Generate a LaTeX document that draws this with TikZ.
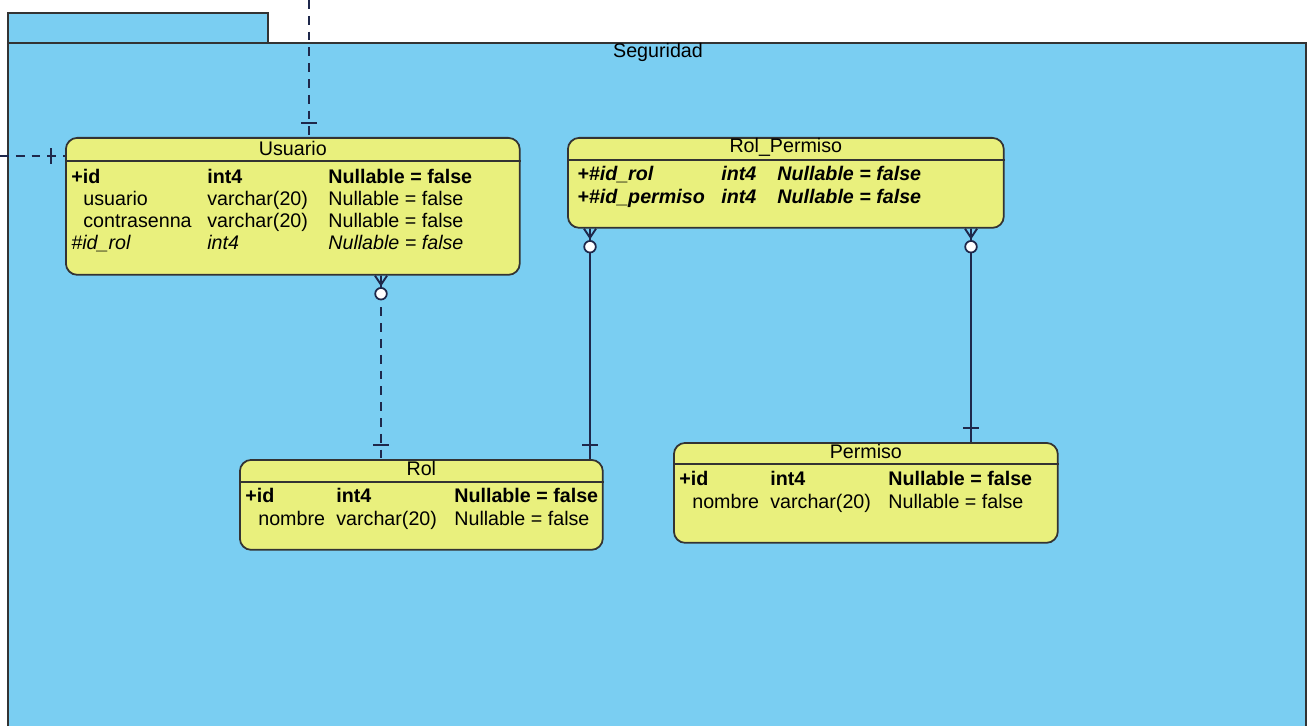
\documentclass[tikz,border=0pt]{standalone}
\usepackage{fontspec}
\setmainfont{Liberation Sans}
\usetikzlibrary{positioning}
\definecolor{celeste}{RGB}{122,206,242}
\definecolor{amarillo}{RGB}{233,240,125}
\definecolor{azuloscuro}{RGB}{30,40,75}
\newcommand{\tam}{\fontsize{11.2}{13}\selectfont}

\tikzset{
  borde/.style={draw=black!80, line width=1pt},
  tabla/.style={borde, fill=amarillo, rounded corners=6.5pt, anchor=north west, inner sep=0pt},
  titulo/.style={anchor=base, inner sep=0pt, font=\tam},
  campo/.style={anchor=base west, inner sep=0pt},
  conector/.style={draw=azuloscuro, line width=0.7pt},
  discontinuo/.style={dash pattern=on 5pt off 4pt},
  muchos/.pic={
    \draw[conector, line width=1.1pt] (-6,0) -- (0,9) (0,0) -- (0,9) (6,0) -- (0,9) (0,9) -- (0,12);
    \draw[conector, line width=1pt, fill=white] (0,18) circle (3.3pt);
  },
  uno/.pic={
    \draw[conector] (-8,-14) -- (8,-14);
  }
}

\begin{document}
\begin{tikzpicture}[x=0.02cm, y=-0.02cm]
    \useasboundingbox (0,0) rectangle (1310,726);

    % Paquete Seguridad
    \fill[celeste] (8,43) rectangle (1306,726);
    \draw[borde] (8,726) -- (8,43) -- (1306,43) -- (1306,726);
    \draw[borde, fill=celeste] (8,43) rectangle (268,13);
    \node[titulo] (seguridad) at (658,58) {Seguridad};

    % Tablas
    \node[tabla, minimum width=9.08cm, minimum height=2.74cm] (usuario) at (65,137) {};
    \node[tabla, minimum width=8.72cm, minimum height=1.8cm] (rolpermiso) at (567,137) {};
    \node[tabla, minimum width=7.26cm, minimum height=1.8cm] (rol) at (239,459) {};
    \node[tabla, minimum width=7.68cm, minimum height=2.0cm] (permiso) at (673,442) {};

    \node[titulo] (usuario-t) at ([shift={(0,18)}]usuario.north) {Usuario};
    \node[titulo] (rolpermiso-t) at ([shift={(0,16)}]rolpermiso.north) {Rol\_Permiso};
    \node[titulo] (rol-t) at ([shift={(0,16)}]rol.north) {Rol};
    \node[titulo] (permiso-t) at ([shift={(0,16)}]permiso.north) {Permiso};

    \draw[borde] ([shift={(0,24)}]usuario.north west) -- ([shift={(0,24)}]usuario.north east);
    \draw[borde] ([shift={(0,23)}]rolpermiso.north west) -- ([shift={(0,23)}]rolpermiso.north east);
    \draw[borde] ([shift={(0,23)}]rol.north west) -- ([shift={(0,23)}]rol.north east);
    \draw[borde] ([shift={(0,22)}]permiso.north west) -- ([shift={(0,22)}]permiso.north east);

    % Campos
    \foreach \fnt/\dx/\a/\b/\c [count=\i] in {
        \bfseries/6/+id/int4/Nullable = false,
        \upshape/18/usuario/varchar(20)/Nullable = false,
        \upshape/18/contrasenna/varchar(20)/Nullable = false,
        \itshape/6/\#id\_rol/int4/Nullable = false}
    {
        \node[campo, font=\tam\fnt] (usuario-\i-a) at ([shift={(\dx,{24+22*\i})}]usuario.north west) {\a};
        \node[campo, font=\tam\fnt] (usuario-\i-b) at ([shift={(142,{24+22*\i})}]usuario.north west) {\b};
        \node[campo, font=\tam\fnt] (usuario-\i-c) at ([shift={(263,{24+22*\i})}]usuario.north west) {\c};
    }
    \foreach \a [count=\i] in {+\#id\_rol, +\#id\_permiso}
    {
        \node[campo, font=\tam\bfseries\itshape] (rolpermiso-\i-a) at ([shift={(10,{21+22.5*\i})}]rolpermiso.north west) {\a};
        \node[campo, font=\tam\bfseries\itshape] (rolpermiso-\i-b) at ([shift={(154,{21+22.5*\i})}]rolpermiso.north west) {int4};
        \node[campo, font=\tam\bfseries\itshape] (rolpermiso-\i-c) at ([shift={(210,{21+22.5*\i})}]rolpermiso.north west) {Nullable = false};
    }
    \foreach \tab in {rol, permiso}
    {
        \foreach \fnt/\dx/\a/\b [count=\i] in {\bfseries/6/+id/int4, \upshape/19/nombre/varchar(20)}
        {
            \node[campo, font=\tam\fnt] (\tab-\i-a) at ([shift={(\dx,{21+22.5*\i})}]\tab.north west) {\a};
            \node[campo, font=\tam\fnt] (\tab-\i-b) at ([shift={(97,{21+22.5*\i})}]\tab.north west) {\b};
            \node[campo, font=\tam\fnt] (\tab-\i-c) at ([shift={(215,{21+22.5*\i})}]\tab.north west) {Nullable = false};
        }
    }

    % Relaciones
    \coordinate (arriba) at (309,0);
    \coordinate (izquierda) at (0,156);
    \coordinate (x1) at (381,0);
    \coordinate (x2) at (590,0);
    \coordinate (x3) at (971,0);

    \draw[conector, discontinuo] (arriba) -- (usuario.north -| arriba);
    \path (usuario.north -| arriba) pic {uno};
    \draw[conector, discontinuo] (izquierda) -- (usuario.west |- izquierda);
    \path (usuario.west |- izquierda) pic[rotate=90] {uno};

    \draw[conector, discontinuo] (usuario.south -| x1) -- (rol.north -| x1);
    \path (usuario.south -| x1) pic {muchos} (rol.north -| x1) pic {uno};

    \draw[conector] (rolpermiso.south -| x2) -- (rol.north -| x2);
    \path (rolpermiso.south -| x2) pic {muchos} (rol.north -| x2) pic {uno};

    \draw[conector] (rolpermiso.south -| x3) -- (permiso.north -| x3);
    \path (rolpermiso.south -| x3) pic {muchos} (permiso.north -| x3) pic {uno};
\end{tikzpicture}
\end{document}
